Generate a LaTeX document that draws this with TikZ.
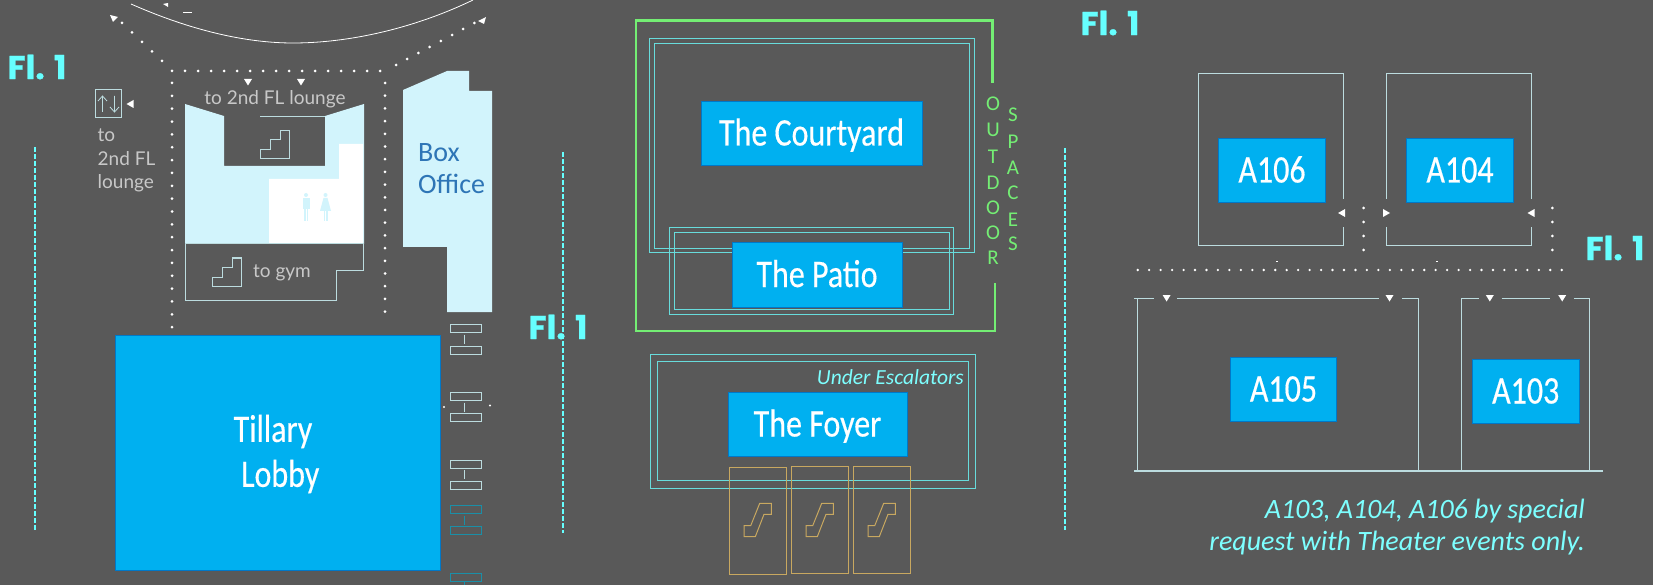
\documentclass[tikz,border=0pt]{standalone}
\usepackage{fontspec}
\setmainfont{Carlito}
\newfontfamily\labfont[FakeStretch=0.82,FakeBold=0.4]{Carlito}
\newfontfamily\flfont[FakeBold=0.8]{Poppins}
\newfontfamily\thinfont{Lato}
\definecolor{bg}{HTML}{595959}
\definecolor{roomblue}{HTML}{00B0F0}
\definecolor{roomedge}{HTML}{0078C8}
\definecolor{pale}{HTML}{D2F4FC}
\definecolor{wall}{HTML}{BCDCDF}
\definecolor{cya}{HTML}{66FFFF}
\definecolor{tealline}{HTML}{68DCDC}
\definecolor{grn}{HTML}{74EE74}
\definecolor{gold}{HTML}{C8A860}
\definecolor{greytxt}{HTML}{C8C8C8}
\definecolor{teal2}{HTML}{1A8FA8}
\definecolor{officeblue}{HTML}{2E75B6}
\tikzset{
  roombox/.style={draw=roomedge,line width=0.8pt,fill=roomblue,text=white,inner sep=0pt,align=center},
  roomtext/.style={font=\labfont\fontsize{39}{42}\selectfont},
  wallline/.style={draw=wall,line width=1pt},
  walltwo/.style={draw=tealline,line width=1pt},
  flabel/.style={text=cya,font=\flfont\bfseries\fontsize{33}{33}\selectfont,inner sep=0pt},
  guide/.style={draw=cya,line width=1.4pt,dash pattern=on 5pt off 2pt},
  thintext/.style={text=greytxt,font=\thinfont\fontsize{19}{23}\selectfont,inner sep=0pt},
  gold line/.style={draw=gold,line width=1pt},
}
\newcommand{\rt}[1]{\raisebox{-3pt}[27pt][8pt]{#1}}
\newcommand{\wdot}[2]{\fill[white] (#1,#2) circle (1.5);}
\newcommand{\tdown}[2]{\fill[white] (#1-4,#2-3) -- (#1+4,#2-3) -- (#1,#2+3.5) -- cycle;}
\newcommand{\tleft}[2]{\fill[white] (#1+3.5,#2-4) -- (#1+3.5,#2+4) -- (#1-3.5,#2) -- cycle;}
\newcommand{\tright}[2]{\fill[white] (#1-3.5,#2-4) -- (#1-3.5,#2+4) -- (#1+3.5,#2) -- cycle;}
\newcommand{\stairicon}[2]{\draw[wallline] (#1,#2) -- ++(0,-9) -- ++(10,0) -- ++(0,-10) -- ++(10,0) -- ++(0,-9) -- ++(9,0) -- ++(0,28) -- cycle;}
\newcommand{\pairgroup}[3]{%
  \draw[draw=#3,line width=1pt] (450,#1) rectangle (481,#1+8);
  \draw[draw=#3,line width=1pt] (450,#2) rectangle (481,#2+8);
  \draw[draw=#3,line width=1pt] (464.5,#1+10) -- (464.5,#2-2);}
\newcommand{\escal}[2]{%
  \draw[gold line] (#1,#2) rectangle ++(57,107);
  \draw[gold line,shift={(#1,0)}] (15,525.7) -- (21.7,525.7) -- (30.7,503.3) -- (42.3,503.3) -- (42.3,514.3) -- (35,514.3) -- (26.3,536.7) -- (15,536.7) -- cycle;}
\begin{document}
\begin{tikzpicture}[x=1pt,y=-1pt]
\useasboundingbox (0,0) rectangle (1653,585);
\fill[bg] (0,0) rectangle (1653,585);

% ---------- left plan
\node[flabel,anchor=center] (fl1) at (37,67) {Fl. 1};
\draw[guide] (35,147) -- (35,530);
\draw[draw=white,line width=0.8pt] (131,4) .. controls (190,30) and (245,43) .. (293,43) .. controls (350,43) and (415,28) .. (473,0);
\fill[white] (163,4) -- (168,7) -- (168,3) -- cycle;
\draw[white,line width=0.8pt] (183,12.5) -- (192,12.5);
% dotted routes
\fill[white] (110,15) -- (118,17) -- (113,22) -- cycle;
\foreach \k in {0,...,4} {\wdot{122+10*\k}{23+9.5*\k}}
\foreach \k in {0,...,7} {\wdot{396+11.2*\k}{65-6*\k}}
\fill[white] (486,17) -- (484,24) -- (478,21) -- cycle;
\foreach \k in {0,...,16} {\wdot{172+13*\k}{71}}
\foreach \k in {0,...,19} {\wdot{172}{83+12.85*\k}}
\foreach \k in {0,...,18} {\wdot{385}{83+12.7*\k}}
\tdown{248}{82}\tdown{301}{82}
% pale area
\fill[pale] (185,104) -- (224,116) -- (224,166) -- (325,166) -- (325,116) -- (364,104) -- (364,244) -- (185,244) -- cycle;
\fill[white] (269,179) -- (339,179) -- (339,144) -- (363,144) -- (363,243) -- (269,243) -- cycle;
\draw[wallline] (260,116.5) -- (325,116.5);
\stairicon{260}{159}
\node[thintext] (lounge2) at (275,99) {to 2nd FL lounge};
% people
\fill[pale] (306,195) circle (2);
\fill[pale] (302.5,198) rectangle (309.5,209);
\fill[pale] (304,209) rectangle (305.5,221);
\fill[pale] (306.5,209) rectangle (308,221);
\fill[pale] (325.5,195) circle (2);
\fill[pale] (323.5,198) -- (327.5,198) -- (331,211) -- (320,211) -- cycle;
\fill[pale] (323.5,211) rectangle (325,221);
\fill[pale] (326,211) rectangle (327.5,221);
% gym
\draw[wallline,fill=bg] (185.5,244) -- (363.5,244) -- (363.5,270) -- (336,270) -- (336,300) -- (185.5,300) -- cycle;
\stairicon{212}{286}
\node[thintext,anchor=center] (gym) at (282,272.5) {to gym};
% elevator
\draw[wallline] (95.5,90) rectangle (121.5,118);
\draw[wallline,line width=0.8pt] (102.5,112) -- (102.5,96) (98,101) -- (102.5,96) -- (107,101);
\draw[wallline,line width=0.8pt] (114.5,96) -- (114.5,112) (110,107) -- (114.5,112) -- (119,107);
\tleft{130}{104}
\node[thintext,anchor=north west,align=left] (el) at (97.5,129) {to\\[0.5pt]2nd FL\\[0.5pt]lounge};
% box office
\fill[pale] (403,90) -- (447,71) -- (469,71) -- (469,91) -- (492,91) -- (492,312) -- (447,312) -- (447,247) -- (403,247) -- cycle;
\node[text=officeblue,anchor=north west,align=left,font=\fontsize{28}{32}\selectfont,inner sep=0pt] (boxoff) at (418,143) {Box\\Office};
% lobby
\node[roombox,minimum width=325pt,minimum height=235pt] (lobby) at (277.5,452.5) {};
\node[text=white,roomtext,align=center,inner sep=0pt] (lobbytxt) at (273,454) {Tillary\\[3pt]\ \ Lobby};
% stairs right of lobby
\pairgroup{324.5}{346}{wall}
\pairgroup{392.5}{413.5}{wall}
\pairgroup{460}{481}{wall}
\pairgroup{505.5}{526.5}{teal2}
\draw[draw=teal2,line width=1pt] (450,573) rectangle (481,581);
\draw[draw=teal2,line width=1pt] (464,581) -- (464,585);
\fill[white] (444,407) circle (1.2);
\fill[white] (490,405.5) circle (1.2);

% ---------- middle plan
\node[flabel] (fl2) at (558,327) {Fl. 1};
\draw[guide] (563,152) -- (563,533);
\draw[draw=grn,line width=2.4pt] (992.5,83) -- (992.5,20.7) -- (635.7,20.7) -- (635.7,331) -- (995,331) -- (995,283);
\draw[walltwo] (649,39) rectangle (974,253);
\draw[walltwo] (654,44) rectangle (969,249);
\draw[walltwo] (669,228) rectangle (953,314);
\draw[walltwo] (674,233) rectangle (949,309);
\node[roombox,roomtext,minimum width=221pt,minimum height=64pt] (courtyard) at (811.5,133) {\rt{The Courtyard}};
\node[roombox,roomtext,minimum width=170pt,minimum height=65pt] (patio) at (817,274.5) {\rt{The Patio}};
\foreach \c/\y in {O/104,U/130,T/157,D/183,O/208,O/233,R/258} {\node[text=grn,font=\fontsize{21}{21}\selectfont,inner sep=0pt] at (993,\y) {\c};}
\foreach \c/\y in {S/115,P/142,A/168,C/193,E/220,S/244} {\node[text=grn,font=\fontsize{21}{21}\selectfont,inner sep=0pt] at (1013,\y) {\c};}
\draw[walltwo] (650,354) rectangle (975,488);
\draw[walltwo] (657,361) rectangle (968,480);
\node[text=cya!85!white,font=\itshape\fontsize{21.5}{23}\selectfont,anchor=east,inner sep=0pt] (under) at (964,377) {Under Escalators};
\node[roombox,roomtext,minimum width=179pt,minimum height=64pt] (foyer) at (817.5,424) {\rt{The Foyer}};
\escal{729}{467}
\escal{791}{466}
\escal{853}{466}

% ---------- right plan
\node[flabel] (fl3) at (1110,23) {Fl. 1};
\node[flabel] (fl4) at (1615,248) {Fl. 1};
\draw[guide] (1065,148) -- (1065,530);
\draw[wallline] (1343,199) -- (1343,74) -- (1198,74) -- (1198,246) -- (1343,246) -- (1343,227);
\draw[wallline] (1386.5,199) -- (1386.5,74) -- (1531,74) -- (1531,199);
\draw[wallline] (1386.5,227) -- (1386.5,246) -- (1531,246) -- (1531,227);
\node[roombox,roomtext,minimum width=106.7pt,minimum height=64pt] (a106) at (1272,170) {\rt{A106}};
\node[roombox,roomtext,minimum width=106.8pt,minimum height=64pt] (a104) at (1460,170) {\rt{A104}};
\tleft{1341.6}{213}\tright{1386.5}{213}\tleft{1531}{213}
\foreach \y in {208,222,236,250} {\wdot{1363.7}{\y}\wdot{1552.4}{\y}}
\foreach \k in {0,...,37} {\fill[white] (1137.7+11.46*\k,270) circle (1.3);}
\draw[white,line width=0.7pt] (1276,261) -- (1278,261) (1435.8,261) -- (1437.8,261);
% lower rooms
\draw[wallline] (1137.7,298) -- (1137.7,471);
\draw[wallline] (1418.4,298) -- (1418.4,471);
\draw[wallline] (1461.6,298) -- (1461.6,471);
\draw[wallline] (1589.4,298) -- (1589.4,471);
\draw[wallline] (1134,298) -- (1154,298) (1177,298) -- (1379,298) (1402,298) -- (1418.4,298);
\draw[wallline] (1461.6,298) -- (1478.6,298) (1501.7,298) -- (1550,298) (1573.8,298) -- (1589.4,298);
\draw[draw=wall,line width=1.8pt] (1134.3,471) -- (1603.3,471);
\tdown{1166.6}{298}\tdown{1389.5}{298}\tdown{1489.8}{298}\tdown{1562.2}{298}
\node[roombox,roomtext,minimum width=106pt,minimum height=64pt] (a105) at (1283.5,389) {\rt{A105}};
\node[roombox,roomtext,minimum width=106.4pt,minimum height=64pt] (a103) at (1525.7,391) {\rt{A103}};
\node[text=cya!85!white,font=\itshape\fontsize{28}{32}\selectfont,anchor=north east,align=right,inner sep=0pt] (note) at (1585,499) {A103, A104, A106 by special\\request with Theater events only.};
\end{tikzpicture}
\end{document}
